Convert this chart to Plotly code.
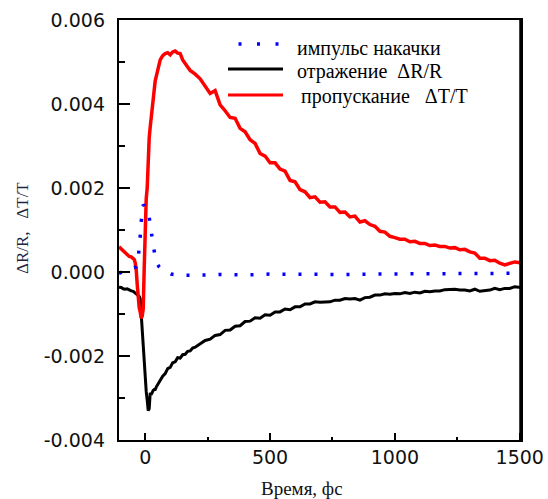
import plotly.graph_objects as go

# Pump-probe delay, fs (shared by the reflection and transmission traces)
t_fs = ([-105, -96, -88, -80, -72, -64, -56, -48, -44]
        + [-40, -36, -32, -28, -24, -20, -16, -12, -8, -4, 0, 4, 8, 12, 16, 20]
        + [24, 28, 32, 36, 40, 44, 48, 52, 56]
        + [60, 70, 80, 90, 100, 110, 120, 130, 140, 150, 160, 170, 180, 190, 200]
        + [220, 240, 260, 280, 300, 320, 340, 360, 380, 400,
           420, 440, 460, 480, 500, 520, 540, 560, 580, 600,
           620, 640, 660, 680, 700, 720, 740, 760, 780, 800,
           820, 840, 860, 880, 900, 920, 940, 960, 980, 1000,
           1020, 1040, 1060, 1080, 1100, 1120, 1140, 1160, 1180, 1200,
           1220, 1240, 1260, 1280, 1300, 1320, 1340, 1360, 1380, 1400,
           1420, 1440, 1460, 1480, 1500, 1505])

# Transmission change dT/T, units of 1e-3
dT_T_e3 = ([0.60, 0.55, 0.50, 0.44, 0.41, 0.37, 0.36, 0.33, 0.30]
           + [0.22, 0.05, -0.30, -0.65, -0.85, -0.95, -1.10, -1.05, -0.88, 0.10, 1.35, 1.75, 2.00, 2.85, 3.20, 3.45]
           + [3.70, 3.90, 4.05, 4.30, 4.55, 4.65, 4.76, 4.85, 4.95]
           + [5.05, 5.15, 5.20, 5.22, 5.17, 5.24, 5.26, 5.21, 5.20, 5.05, 4.98, 4.88, 4.80, 4.76, 4.71]
           + [4.60, 4.42, 4.25, 4.32, 3.98, 3.84, 3.68, 3.66, 3.42, 3.34,
              3.15, 3.06, 2.82, 2.76, 2.60, 2.60, 2.45, 2.40, 2.18, 2.15,
              1.96, 1.91, 1.77, 1.79, 1.66, 1.67, 1.55, 1.55, 1.42, 1.43,
              1.31, 1.33, 1.19, 1.22, 1.13, 1.09, 0.97, 0.95, 0.85, 0.82,
              0.78, 0.78, 0.72, 0.73, 0.68, 0.68, 0.63, 0.64, 0.61, 0.61,
              0.57, 0.58, 0.53, 0.54, 0.48, 0.45, 0.33, 0.33, 0.27, 0.28,
              0.21, 0.17, 0.20, 0.24, 0.22, 0.24])

# Reflection change dR/R, units of 1e-3
dR_R_e3 = ([-0.36, -0.37, -0.40, -0.41, -0.40, -0.43, -0.45, -0.46, -0.48]
           + [-0.50, -0.52, -0.52, -0.55, -0.58, -0.64, -1.05, -1.40, -1.65, -2.20, -2.65, -2.85, -3.05, -3.30, -3.25, -2.88]
           + [-2.92, -2.85, -2.82, -2.80, -2.80, -2.74, -2.70, -2.65, -2.62]
           + [-2.58, -2.48, -2.42, -2.30, -2.27, -2.16, -2.14, -2.04, -2.05, -1.97, -1.96, -1.89, -1.88, -1.81, -1.79]
           + [-1.72, -1.63, -1.60, -1.51, -1.49, -1.39, -1.38, -1.29, -1.28, -1.18,
              -1.17, -1.09, -1.10, -1.02, -1.03, -0.95, -0.95, -0.88, -0.90, -0.83,
              -0.83, -0.76, -0.76, -0.71, -0.72, -0.71, -0.71, -0.67, -0.67, -0.63,
              -0.64, -0.63, -0.67, -0.61, -0.60, -0.55, -0.55, -0.52, -0.53, -0.51,
              -0.52, -0.49, -0.51, -0.48, -0.50, -0.46, -0.47, -0.45, -0.45, -0.42,
              -0.42, -0.41, -0.43, -0.43, -0.45, -0.41, -0.46, -0.44, -0.43, -0.39,
              -0.42, -0.39, -0.39, -0.35, -0.38, -0.37])

assert len(t_fs) == len(dT_T_e3) == len(dR_R_e3)

# Pump pulse profile
t_pump = [-105, -90, -75, -60, -45, -36, -30, -24, -20, -16, -12, -8, -4, 0,
          4, 8, 12, 16, 20, 24, 28, 32, 36, 40, 48, 56, 68, 84, 104, 130,
          200, 300, 400, 500, 600, 700, 800, 900, 1000, 1100, 1200, 1300,
          1400, 1505]
pump_e3 = [-0.03, 0.00, 0.03, 0.07, 0.09, 0.12, 0.20, 0.50, 0.86, 1.20, 1.45, 1.60, 1.58, 1.52,
           1.50, 1.48, 1.45, 1.30, 1.10, 0.95, 0.80, 0.68, 0.50, 0.33, 0.20, 0.12, 0.05, 0.00, -0.05, -0.07,
           -0.08, -0.06, -0.07, -0.05, -0.06, -0.05, -0.06, -0.05, -0.05, -0.04, -0.05, -0.04,
           -0.04, -0.03]

x_tick_vals = [0, 500, 1000, 1500]
x_tick_text = ["0", "500", "1000", "1500"]
y_tick_vals = [-0.004, -0.002, 0.0, 0.002, 0.004, 0.006]
y_tick_text = ["-0.004", "-0.002", "0.000", "0.002", "0.004", "0.006"]

legend_labels = ["импульс накачки", "отражение  ΔR/R", "пропускание   ΔT/T"]

W, H = 548, 499
L, R, T, B = 119, 27, 20, 59
PW, PH = W - L - R, H - T - B


def px(x):
    return (x - L) / PW


def py(y):
    return (H - B - y) / PH


PUMP_DASH = "3px,13px"

fig = go.Figure()
fig.add_trace(go.Scatter(x=t_fs, y=[v * 1e-3 for v in dR_R_e3], mode="lines",
                         line=dict(color="#000000", width=3), showlegend=False))
fig.add_trace(go.Scatter(x=t_fs, y=[v * 1e-3 for v in dT_T_e3], mode="lines",
                         line=dict(color="#ff0000", width=3.5), showlegend=False))
fig.add_trace(go.Scatter(x=t_pump, y=[v * 1e-3 for v in pump_e3], mode="lines",
                         line=dict(color="#0000ff", width=3.5, dash=PUMP_DASH),
                         showlegend=False))

serif = "Liberation Serif, Times New Roman, serif"
sans = "DejaVu Sans, Arial, sans-serif"

# Legend drawn in the upper part of the frame
legend_rows = [
    dict(ypix=44, color="#0000ff", dash="3px,15.5px", x0=238.5, x1=281, tx=295, ty=49),
    dict(ypix=69, color="#000000", dash="solid", x0=228, x1=283, tx=295, ty=71),
    dict(ypix=95, color="#ff0000", dash="solid", x0=228, x1=283, tx=299, ty=96),
]
shapes = []
annotations = []
for row, label in zip(legend_rows, legend_labels):
    shapes.append(dict(type="line", xref="paper", yref="paper",
                       x0=px(row["x0"]), x1=px(row["x1"]),
                       y0=py(row["ypix"]), y1=py(row["ypix"]),
                       line=dict(color=row["color"], width=3.5 if row["dash"] != "solid" else 3,
                                 dash=row["dash"])))
    annotations.append(dict(text=label.replace(" ", "\u00a0"), xref="paper", yref="paper",
                            x=px(row["tx"]), y=py(row["ty"]), xanchor="left", yanchor="middle",
                            showarrow=False, font=dict(family=serif, size=20, color="#000")))

# Heavier right edge of the frame
shapes.append(dict(type="line", xref="paper", yref="paper", x0=1, x1=1, y0=0, y1=1,
                   line=dict(color="#000", width=3.5)))

annotations.append(dict(text="ΔR/R,\u00a0\u00a0\u00a0ΔT/T", xref="paper", yref="paper",
                        x=px(22), y=py(228), xanchor="center", yanchor="middle",
                        textangle=-90, showarrow=False,
                        font=dict(family=serif, size=17, color="#1c2440")))
annotations.append(dict(text="Время, фс", xref="paper", yref="paper",
                        x=px(302), y=py(476), xanchor="center", yanchor="top",
                        showarrow=False, font=dict(family=serif, size=19, color="#111")))

fig.update_layout(
    width=W, height=H,
    margin=dict(l=L, r=R, t=T, b=B, pad=0, autoexpand=False),
    paper_bgcolor="white", plot_bgcolor="white",
    shapes=shapes, annotations=annotations,
    showlegend=False,
)
fig.update_xaxes(range=[-105, 1505], showgrid=False, zeroline=False, automargin=False,
                 showline=True, linecolor="#000", linewidth=2.4, mirror=True,
                 ticks="inside", ticklen=7, tickwidth=2, tickcolor="#000",
                 tickvals=x_tick_vals, ticktext=x_tick_text,
                 minor=dict(ticks="inside", ticklen=3, tickwidth=2, tickcolor="#000",
                            tickvals=[250, 750, 1250]),
                 tickfont=dict(family=sans, size=19, color="#111"),
                 ticklabelstandoff=-1)
fig.update_yaxes(range=[-0.004, 0.006], showgrid=False, zeroline=False, automargin=False,
                 showline=True, linecolor="#000", linewidth=2.4, mirror=True,
                 ticks="inside", ticklen=11, tickwidth=2, tickcolor="#000",
                 tickvals=y_tick_vals, ticktext=y_tick_text,
                 minor=dict(ticks="inside", ticklen=6, tickwidth=2, tickcolor="#000",
                            tickvals=[-0.003, -0.001, 0.001, 0.003, 0.005]),
                 tickfont=dict(family=sans, size=19, color="#111"),
                 ticklabelstandoff=8)

fig.write_html("out.html")
